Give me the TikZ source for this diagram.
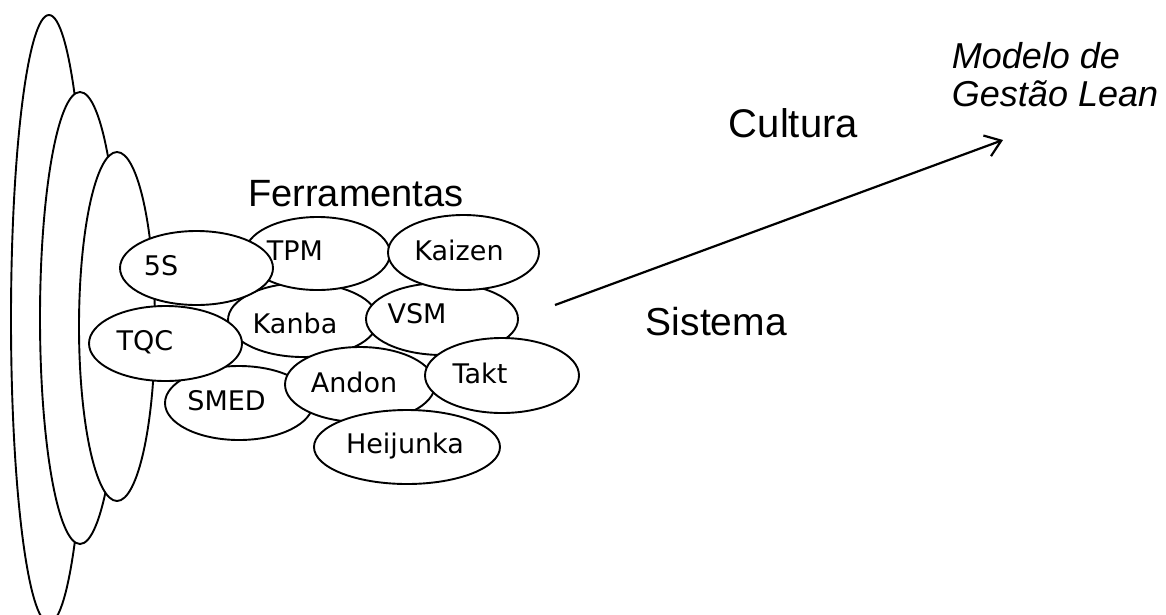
\documentclass[tikz,border=0pt]{standalone}
\usepackage{fontspec}
\setmainfont{Liberation Sans}
\newfontfamily\toolfont{DejaVu Sans}
\usetikzlibrary{shapes.geometric,arrows.meta}

\begin{document}
\begin{tikzpicture}[x=1pt,y=-1pt,line width=1.9pt,
  ring/.style={draw,fill=white},
  tool/.style={ellipse,draw,fill=white,inner sep=0pt},
  toollabel/.style={font=\toolfont\fontsize{27}{32}\selectfont,inner sep=0pt,anchor=base},
  heading/.style={inner sep=0pt,anchor=base west},
]
\useasboundingbox (0,0) rectangle (1166,614);
\clip (0,0) rectangle (1166,614);

% nested layers on the left
\draw[ring] (49,319) ellipse [x radius=38pt, y radius=304pt];
\draw[ring] (80,318) ellipse [x radius=40pt, y radius=226pt];
\draw[ring] (117,326.5) ellipse [x radius=38pt, y radius=174.5pt];

% cluster of tools (later ones lie on top)
\node[tool,minimum width=150pt,minimum height=74pt] (kanba) at (303,320) {};
\node[tool,minimum width=152pt,minimum height=72pt] (vsm) at (442,319) {};
\node[tool,minimum width=145pt,minimum height=73pt] (tpm) at (317.5,253.5) {};
\node[tool,minimum width=151pt,minimum height=75pt] (kaizen) at (463.5,252.5) {};
\node[tool,minimum width=153pt,minimum height=74pt] (s5) at (196.5,268) {};
\node[tool,minimum width=148pt,minimum height=74pt] (smed) at (239,403) {};
\node[tool,minimum width=153pt,minimum height=75pt] (tqc) at (165.5,343.5) {};
\node[tool,minimum width=150pt,minimum height=75pt] (andon) at (360,384.5) {};
\node[tool,minimum width=154pt,minimum height=75pt] (takt) at (502,375.5) {};
\node[tool,minimum width=186pt,minimum height=74pt] (heijunka) at (407,447) {};

% tool names
\node[toollabel] (s5-t) at (161,275) {5S};
\node[toollabel] (tpm-t) at (295,260) {TPM};
\node[toollabel] (kaizen-t) at (459,260) {Kaizen};
\node[toollabel] (kanba-t) at (295,333) {Kanba};
\node[toollabel] (vsm-t) at (417,323) {VSM};
\node[toollabel] (tqc-t) at (145,350) {TQC};
\node[toollabel] (smed-t) at (226.5,410) {SMED};
\node[toollabel] (andon-t) at (354,392) {Andon};
\node[toollabel] (takt-t) at (480,383) {Takt};
\node[toollabel] (heijunka-t) at (405,453) {Heijunka};

% headings
\node[heading,anchor=base,font=\fontsize{38}{44}\selectfont] (ferramentas) at (356,206) {Ferramentas};
\node[heading,font=\fontsize{40}{46}\selectfont] (cultura) at (728,137) {Cultura};
\node[heading,font=\fontsize{39}{46}\selectfont] (sistema) at (645,335) {Sistema};
\node[inner sep=0pt,anchor=north west,align=left,font=\itshape\fontsize{36}{38}\selectfont] (modelo) at (951,41) {Modelo de\\Gestão Lean};

% direction of the model
\coordinate (from) at (555,305);
\coordinate (to) at (1003,140);
\draw[line width=2.2pt,-{Straight Barb[length=15pt,width=22pt]}] (from) -- (to);
\end{tikzpicture}
\end{document}
